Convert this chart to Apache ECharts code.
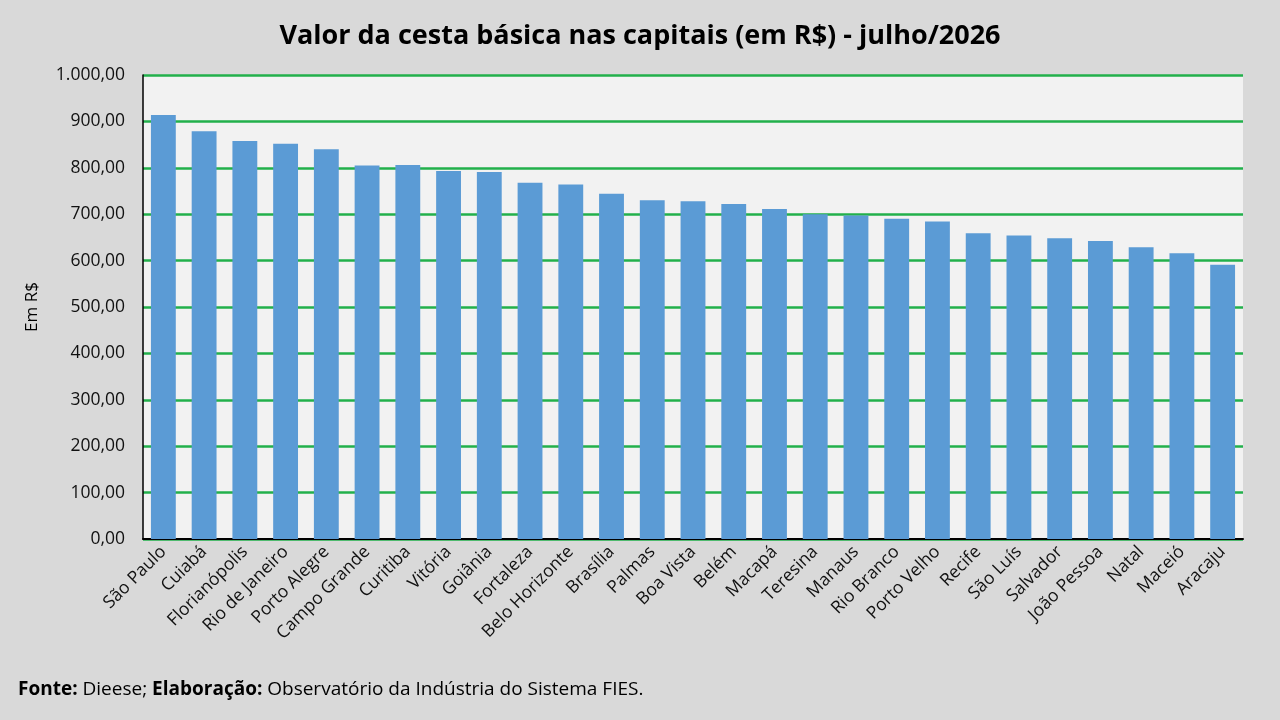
<!DOCTYPE html>
<html>
<head>
<meta charset="utf-8">
<script src="https://cdn.jsdelivr.net/npm/echarts@6/dist/echarts.min.js"></script>
<style>
  html, body { margin: 0; padding: 0; background: #d9d9d9; }
  #chart { width: 1280px; height: 720px; }
</style>
</head>
<body>
<div id="chart"></div>
<script>
// capitais, em ordem decrescente
var capitais = ['São Paulo', 'Cuiabá', 'Florianópolis', 'Rio de Janeiro', 'Porto Alegre', 'Campo Grande',
  'Curitiba', 'Vitória', 'Goiânia', 'Fortaleza', 'Belo Horizonte', 'Brasília', 'Palmas', 'Boa Vista',
  'Belém', 'Macapá', 'Teresina', 'Manaus', 'Rio Branco', 'Porto Velho', 'Recife', 'São Luís',
  'Salvador', 'João Pessoa', 'Natal', 'Maceió', 'Aracaju'];
// valor da cesta (R$)
var valores = [914, 879, 858, 852, 840, 805, 806, 793, 791, 768, 764, 744, 730, 728,
  722, 711, 700, 697, 690, 684, 659, 654, 648, 642, 629, 616, 591];

var titulo = 'Valor da cesta básica nas capitais (em R$) - julho/2026';
var fonte = '"Open Sans", sans-serif';

function formatBR(v) {
  var s = v.toFixed(2).split('.');
  var inteiro = s[0].replace(/\B(?=(\d{3})+(?!\d))/g, '.');
  return inteiro + ',' + s[1];
}

var chart = echarts.init(document.getElementById('chart'));
var option = {
  backgroundColor: '#d9d9d9',
  animation: false,
  title: {
    text: titulo,
    left: 'center',
    top: 18,
    textStyle: { fontFamily: fonte, fontSize: 27, fontWeight: 'bold', color: '#000' }
  },
  graphic: [
    {
      type: 'text',
      left: 18,
      top: 680,
      style: {
        text: '{b|Fonte:} Dieese; {b|Elaboração:} Observatório da Indústria do Sistema FIES.',
        fontFamily: fonte,
        fontSize: 19,
        fill: '#000',
        rich: {
          b: { fontWeight: 'bold', fontFamily: fonte, fontSize: 19, fill: '#000' }
        }
      }
    }
  ],
  grid: {
    left: 143,
    right: 37,
    top: 75,
    bottom: 181,
    show: true,
    backgroundColor: '#f2f2f2',
    borderWidth: 0
  },
  xAxis: {
    type: 'category',
    data: capitais,
    axisLine: { show: true, lineStyle: { color: '#000', width: 2 } },
    axisTick: { show: false },
    axisLabel: {
      interval: 0,
      rotate: 45,
      fontFamily: fonte,
      fontSize: 17.5,
      color: '#111',
      margin: 10
    }
  },
  yAxis: {
    type: 'value',
    min: 0,
    max: 1000,
    interval: 100,
    name: 'Em R$',
    nameLocation: 'middle',
    nameGap: 102,
    nameRotate: 90,
    nameTextStyle: { fontFamily: fonte, fontSize: 17, color: '#000' },
    axisLine: { show: true, lineStyle: { color: '#000', width: 1.5 } },
    axisTick: { show: false },
    axisLabel: {
      fontFamily: fonte,
      fontSize: 17.5,
      color: '#111',
      margin: 18,
      formatter: function (v) { return formatBR(v); }
    },
    splitLine: { lineStyle: { color: '#22b04b', width: 2.5 } }
  },
  series: [
    {
      type: 'bar',
      data: valores,
      barCategoryGap: '39%',
      itemStyle: { color: '#5b9bd5' }
    }
  ]
};
chart.setOption(option);
</script>
</body>
</html>
